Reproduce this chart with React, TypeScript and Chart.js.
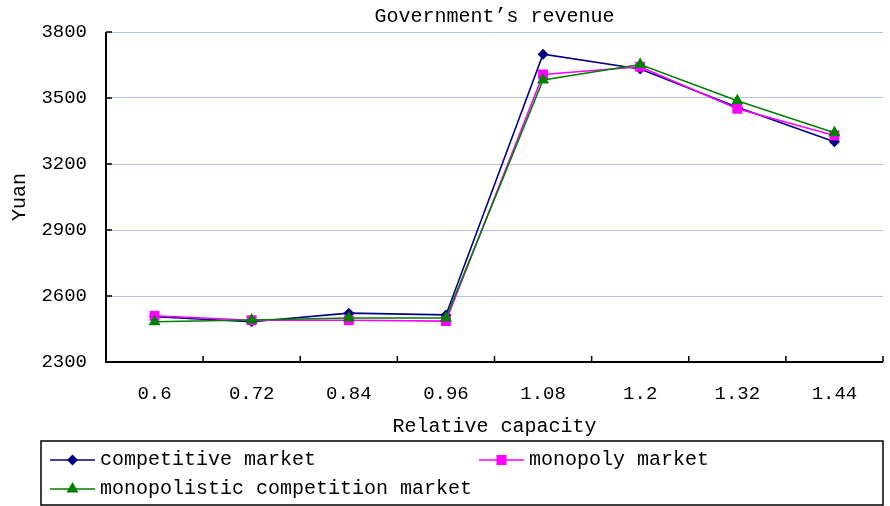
import React, { useEffect, useRef } from "react";
import { Chart, registerables } from "chart.js";

Chart.register(...registerables);

const categories = ["0.6", "0.72", "0.84", "0.96", "1.08", "1.2", "1.32", "1.44"];
const competitive = [2506, 2483, 2522, 2514, 3699, 3632, 3458, 3301];
const monopoly = [2510, 2490, 2490, 2486, 3607, 3642, 3451, 3330];
const monopolistic = [2483, 2491, 2500, 2500, 3582, 3652, 3487, 3342];
const yTicks = [2300, 2600, 2900, 3200, 3500, 3800];

const seriesNames = ["competitive market", "monopoly market", "monopolistic competition market"];
const seriesColors = ["#000080", "#FF00FF", "#008000"];
const seriesShapes = ["rectRot", "rect", "triangle"];

const FONT = '"Liberation Mono", monospace';

function drawMarker(ctx: CanvasRenderingContext2D, shape: string, x: number, y: number, color: string) {
  ctx.fillStyle = color;
  ctx.beginPath();
  if (shape === "rectRot") {
    const r = 5.5;
    ctx.moveTo(x, y - r);
    ctx.lineTo(x + r, y);
    ctx.lineTo(x, y + r);
    ctx.lineTo(x - r, y);
  } else if (shape === "rect") {
    const s = 5;
    ctx.rect(x - s, y - s, 2 * s, 2 * s);
  } else {
    const r = 7;
    ctx.moveTo(x, y - r);
    ctx.lineTo(x + r * 0.866, y + r * 0.5);
    ctx.lineTo(x - r * 0.866, y + r * 0.5);
  }
  ctx.closePath();
  ctx.fill();
}

const decor = {
  id: "decor",
  afterDraw(chart: any) {
    const { ctx, chartArea } = chart;
    const { left, right, top, bottom } = chartArea;
    const y = chart.scales.y;
    const n = categories.length;
    ctx.save();
    // axes
    ctx.strokeStyle = "#000";
    ctx.lineWidth = 2;
    ctx.beginPath();
    ctx.moveTo(left, top);
    ctx.lineTo(left, bottom);
    ctx.lineTo(right, bottom);
    ctx.stroke();
    // inward ticks
    ctx.lineWidth = 1.5;
    ctx.beginPath();
    yTicks.forEach((v) => {
      const py = y.getPixelForValue(v);
      ctx.moveTo(left, py);
      ctx.lineTo(left + 6, py);
    });
    for (let i = 1; i <= n; i++) {
      const px = left + (i * (right - left)) / n;
      ctx.moveTo(px, bottom);
      ctx.lineTo(px, bottom - 6);
    }
    ctx.stroke();

    // titles
    ctx.fillStyle = "#000";
    ctx.font = `20px ${FONT}`;
    ctx.textAlign = "center";
    ctx.textBaseline = "middle";
    ctx.fillText("Government\u2019s revenue", (left + right) / 2, 17);
    ctx.fillText("Relative capacity", (left + right) / 2, 427);
    ctx.save();
    ctx.translate(20, (top + bottom) / 2);
    ctx.rotate(-Math.PI / 2);
    ctx.fillText("Yuan", 0, 0);
    ctx.restore();

    // legend
    const lt = chart.height - 65;
    const lb = chart.height - 1;
    ctx.strokeStyle = "#000";
    ctx.lineWidth = 1.5;
    ctx.strokeRect(41, lt, right - 41, lb - lt);
    const pos = [
      [50, lt + 19],
      [479, lt + 19],
      [50, lt + 48],
    ];
    ctx.textAlign = "left";
    seriesNames.forEach((name, i) => {
      const [x0, y0] = pos[i];
      ctx.strokeStyle = seriesColors[i];
      ctx.lineWidth = 1.5;
      ctx.beginPath();
      ctx.moveTo(x0, y0);
      ctx.lineTo(x0 + 45, y0);
      ctx.stroke();
      drawMarker(ctx, seriesShapes[i], x0 + 22.5, y0, seriesColors[i]);
      ctx.fillStyle = "#000";
      ctx.fillText(name, x0 + 50, y0);
    });
    ctx.restore();
  },
};

export default function App() {
  const ref = useRef<HTMLCanvasElement>(null);
  useEffect(() => {
    document.body.style.margin = "0";
    const datasets = [competitive, monopoly, monopolistic].map((data, i) => ({
      label: seriesNames[i],
      data,
      borderColor: seriesColors[i],
      backgroundColor: seriesColors[i],
      pointBackgroundColor: seriesColors[i],
      pointBorderColor: seriesColors[i],
      pointBorderWidth: 0,
      borderWidth: 1.6,
      pointStyle: seriesShapes[i] as any,
      pointRadius: i === 0 ? 5.5 : 7,
      tension: 0,
      order: 3 - i,
    }));
    const chart = new Chart(ref.current!, {
      type: "line",
      data: { labels: categories, datasets },
      plugins: [decor],
      options: {
        animation: false,
        responsive: false,
        maintainAspectRatio: false,
        layout: { padding: { left: 0, top: 32, right: 3, bottom: 65 } },
        plugins: { legend: { display: false }, title: { display: false }, tooltip: { enabled: false } },
        scales: {
          x: {
            type: "category",
            offset: true,
            grid: { display: false, drawTicks: false },
            border: { display: false },
            ticks: { color: "#000", font: { family: FONT, size: 19 }, padding: 21, maxRotation: 0, autoSkip: false },
            afterFit: (s: any) => {
              s.height = 79;
            },
          },
          y: {
            min: 2300,
            max: 3800,
            afterBuildTicks: (s: any) => {
              s.ticks = yTicks.map((v) => ({ value: v }));
            },
            grid: { color: "#AFC2F5", lineWidth: 1, drawTicks: false },
            border: { display: false },
            ticks: {
              color: "#000",
              font: { family: FONT, size: 19 },
              padding: 19,
              callback: (v: any) => String(v),
            },
            afterFit: (s: any) => {
              s.width = 106;
            },
          },
        },
      } as any,
    });
    return () => chart.destroy();
  }, []);
  return (
    <div style={{ position: "absolute", left: 0, top: 0, width: 890, height: 506 }}>
      <canvas ref={ref} width={890} height={506} style={{ display: "block" }} />
    </div>
  );
}
